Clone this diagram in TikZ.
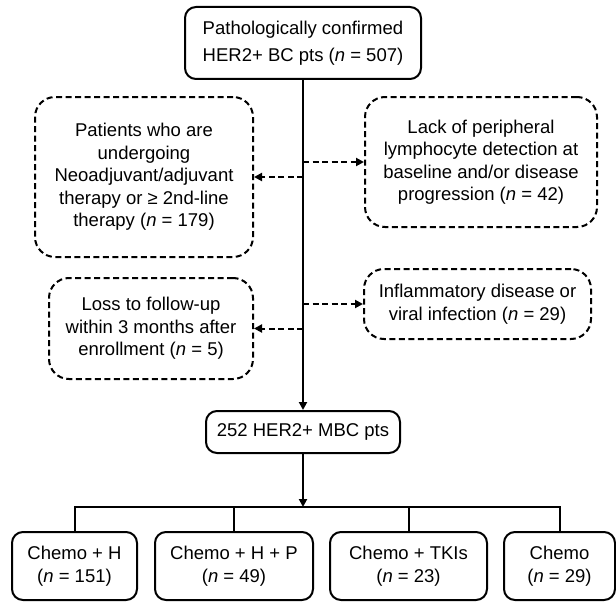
\documentclass[tikz,border=0pt]{standalone}
\usepackage{fontspec}
\setmainfont{Liberation Sans}
\usetikzlibrary{arrows.meta, positioning, calc}

\begin{document}
\begin{tikzpicture}[x=1pt, y=-1pt, font=\fontsize{18.5}{22.5}\selectfont]
    \tikzstyle{solidbox} = [draw, line width=2pt, rounded corners=11pt, align=center, inner sep=0pt]
    \tikzstyle{dashbox} = [draw, line width=2pt, dash pattern=on 6pt off 3.5pt, rounded corners=20pt, align=center, inner sep=0pt]
    \tikzstyle{arrow} = [-{Triangle[length=8pt, width=8pt]}, line width=2pt]
    \tikzstyle{dasharrow} = [arrow, dash pattern=on 6pt off 3.5pt]
    \useasboundingbox (0,0) rectangle (616,602);

    % main flow
    \node[solidbox, minimum width=236pt, minimum height=72pt, font=\fontsize{18.5}{27}\selectfont] (confirmed) at (303,43)
        {Pathologically confirmed\\HER2+ BC pts (\textit{n} = 507)};
    \node[solidbox, minimum width=194pt, minimum height=42pt] (mbc) at (303,432) {252 HER2+ MBC pts};

    % exclusions
    \node[dashbox, minimum width=218pt, minimum height=160pt] (undergoing) at (144,177)
        {Patients who are\\undergoing\\Neoadjuvant/adjuvant\\therapy or ≥ 2nd-line\\therapy (\textit{n} = 179)};
    \node[dashbox, minimum width=232pt, minimum height=130pt] (lymphocyte) at (481,162)
        {Lack of peripheral\\lymphocyte detection at\\baseline and/or disease\\progression (\textit{n} = 42)};
    \node[dashbox, minimum width=204pt, minimum height=101pt] (followup) at (151,328.5)
        {Loss to follow-up\\within 3 months after\\enrollment (\textit{n} = 5)};
    \node[dashbox, minimum width=227pt, minimum height=70pt] (infection) at (477.5,304)
        {Inflammatory disease or\\viral infection (\textit{n} = 29)};

    % treatment groups
    \node[solidbox, minimum width=125pt, minimum height=68pt] (chemoh) at (74.5,566) {Chemo + H\\(\textit{n} = 151)};
    \node[solidbox, minimum width=158pt, minimum height=68pt] (chemohp) at (234,566) {Chemo + H + P\\(\textit{n} = 49)};
    \node[solidbox, minimum width=157pt, minimum height=68pt] (chemotki) at (408.5,566) {Chemo + TKIs\\(\textit{n} = 23)};
    \node[solidbox, minimum width=111pt, minimum height=68pt] (chemo) at (559.5,566) {Chemo\\(\textit{n} = 29)};
    \coordinate (bus) at (303,507);

    \draw[arrow] (confirmed) -- (mbc);
    \draw[dasharrow] (confirmed.south |- lymphocyte.west) -- (lymphocyte.west);
    \draw[dasharrow] (confirmed.south |- undergoing.east) -- (undergoing.east);
    \draw[dasharrow] (confirmed.south |- infection.west) -- (infection.west);
    \draw[dasharrow] (confirmed.south |- followup.east) -- (followup.east);

    \draw[arrow] (mbc) -- (bus);
    \draw[line width=2pt] (chemoh.north) -- (chemoh.north |- bus) -- (chemo.north |- bus) -- (chemo.north);
    \draw[line width=2pt] (chemohp.north) -- (chemohp.north |- bus);
    \draw[line width=2pt] (chemotki.north) -- (chemotki.north |- bus);
\end{tikzpicture}
\end{document}
